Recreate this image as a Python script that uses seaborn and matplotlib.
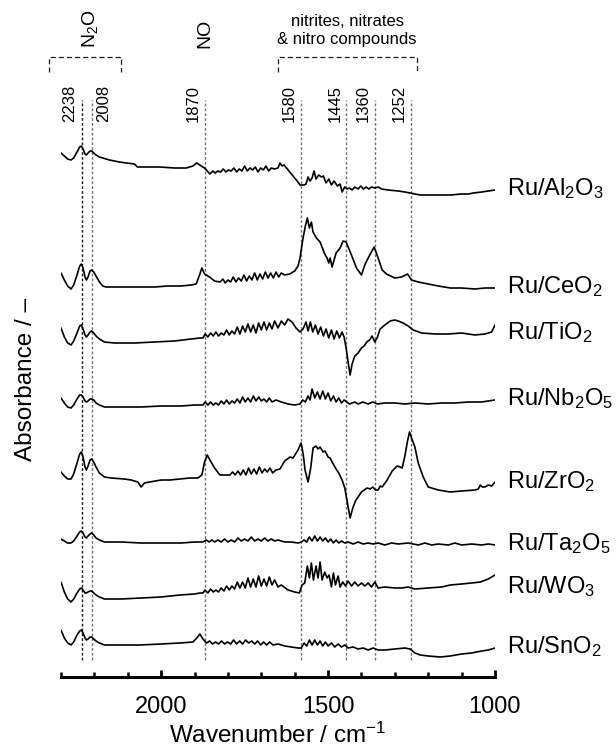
import matplotlib
matplotlib.use("Agg")
import numpy as np
import matplotlib.pyplot as plt
import matplotlib.transforms as mtransforms
from matplotlib.ticker import MultipleLocator
import pandas as pd
import seaborn as sns

# sample names (top to bottom) and vertical stacking offsets
samples = ["Ru/Al$_2$O$_3$", "Ru/CeO$_2$", "Ru/TiO$_2$", "Ru/Nb$_2$O$_5$",
           "Ru/ZrO$_2$", "Ru/Ta$_2$O$_5$", "Ru/WO$_3$", "Ru/SnO$_2$"]
offsets = [4.87, 3.89, 3.43, 2.77, 1.94, 1.32, 0.89, 0.29]

# band positions marked with dashed lines
band_pos = [2238, 2208, 1870, 1580, 1445, 1360, 1252]
band_labels = ["2238", "2008", "1870", "1580", "1445", "1360", "1252"]

# spectra: (wavenumber / cm-1, absorbance relative to baseline)
al2o3 = [(2300, 0.37), (2290, 0.34), (2280, 0.31), (2270, 0.30), (2262, 0.32), (2252, 0.38), (2244, 0.43),
         (2239, 0.44), (2234, 0.41), (2228, 0.36), (2224, 0.35), (2219, 0.37), (2213, 0.39), (2208, 0.39),
         (2202, 0.37), (2195, 0.35), (2185, 0.33), (2155, 0.30), (2125, 0.28), (2104, 0.27),
         (2080, 0.26), (2071, 0.23), (2040, 0.23), (2005, 0.23), (1960, 0.22), (1925, 0.22), (1905, 0.24),
         (1893, 0.27), (1880, 0.24), (1870, 0.22), (1854, 0.16), (1845, 0.19), (1838, 0.17), (1830, 0.19),
         (1822, 0.18), (1814, 0.21), (1806, 0.18), (1798, 0.20), (1790, 0.19), (1782, 0.22), (1774, 0.18),
         (1766, 0.21), (1758, 0.19), (1750, 0.24), (1742, 0.19), (1734, 0.22), (1726, 0.20), (1718, 0.23),
         (1710, 0.18), (1702, 0.22), (1694, 0.20), (1686, 0.24), (1678, 0.19), (1670, 0.22), (1660, 0.21),
         (1650, 0.22), (1644, 0.27), (1638, 0.24), (1632, 0.25), (1622, 0.21), (1610, 0.16), (1595, 0.10),
         (1584, 0.05), (1572, 0.05), (1566, 0.06), (1560, 0.13), (1554, 0.09), (1548, 0.12), (1542, 0.19),
         (1536, 0.11), (1528, 0.15), (1520, 0.13), (1514, 0.14), (1506, 0.07), (1498, 0.11), (1490, 0.05),
         (1482, 0.09), (1472, 0.04), (1464, 0.06), (1458, -0.02), (1450, 0.03), (1443, 0.01), (1436, 0.02),
         (1428, 0.00), (1420, 0.03), (1410, 0.01), (1402, 0.04), (1394, 0.01), (1386, 0.03), (1378, 0.01),
         (1370, 0.03), (1360, 0.02), (1350, 0.03), (1340, 0.01), (1320, 0.00), (1290, -0.01), (1270, -0.02),
         (1254, -0.03), (1240, -0.04), (1224, -0.05), (1180, -0.05), (1134, -0.05), (1100, -0.04),
         (1080, -0.04), (1065, -0.03), (1040, -0.02), (1020, -0.01), (1000, 0.00)]

ceo2 = [(2300, 0.15), (2290, 0.08), (2280, 0.02), (2270, -0.01), (2262, 0.03), (2252, 0.13), (2244, 0.22),
        (2239, 0.24), (2234, 0.20), (2228, 0.11), (2224, 0.08), (2219, 0.11), (2213, 0.17), (2208, 0.18),
        (2202, 0.16), (2195, 0.12), (2185, 0.06), (2175, 0.02), (2165, 0.01), (2140, 0.01), (2080, 0.01),
        (2020, 0.01), (1980, 0.02), (1940, 0.02), (1910, 0.03), (1895, 0.04), (1884, 0.14), (1878, 0.20),
        (1870, 0.14), (1855, 0.11), (1840, 0.07), (1824, 0.06), (1815, 0.09), (1808, 0.05), (1800, 0.08),
        (1792, 0.06), (1784, 0.11), (1776, 0.06), (1768, 0.10), (1760, 0.07), (1752, 0.13), (1744, 0.07),
        (1736, 0.12), (1728, 0.08), (1720, 0.15), (1712, 0.08), (1704, 0.14), (1696, 0.09), (1688, 0.16),
        (1680, 0.10), (1672, 0.15), (1664, 0.10), (1656, 0.16), (1648, 0.11), (1640, 0.15), (1630, 0.13),
        (1615, 0.14), (1600, 0.17), (1590, 0.22), (1584, 0.30), (1575, 0.50), (1568, 0.62), (1562, 0.70),
        (1556, 0.60), (1550, 0.66), (1545, 0.56), (1535, 0.50), (1524, 0.46), (1510, 0.34), (1503, 0.30),
        (1498, 0.25), (1494, 0.30), (1488, 0.21), (1482, 0.28), (1476, 0.35), (1464, 0.40), (1455, 0.47),
        (1446, 0.46), (1430, 0.33), (1415, 0.20), (1400, 0.13), (1390, 0.23), (1380, 0.30), (1362, 0.41),
        (1350, 0.30), (1338, 0.18), (1325, 0.14), (1300, 0.10), (1280, 0.11), (1262, 0.14), (1250, 0.08),
        (1230, 0.06), (1200, 0.04), (1170, 0.02), (1134, 0.00), (1100, 0.00), (1060, -0.01), (1030, 0.00),
        (1000, 0.00)]

tio2 = [(2300, 0.06), (2290, -0.03), (2280, -0.09), (2270, -0.11), (2262, -0.07), (2252, 0.01), (2244, 0.08),
        (2239, 0.09), (2234, 0.05), (2228, -0.01), (2224, -0.03), (2219, -0.01), (2213, 0.02), (2208, 0.03),
        (2202, 0.01), (2195, -0.02), (2185, -0.05), (2170, -0.08), (2140, -0.09), (2080, -0.09), (2020, -0.08),
        (1960, -0.07), (1910, -0.05), (1884, -0.04), (1875, -0.04), (1868, 0.00), (1860, -0.03), (1852, 0.01),
        (1844, -0.02), (1836, 0.02), (1828, -0.02), (1820, 0.01), (1812, -0.01), (1804, 0.04), (1796, -0.01),
        (1788, 0.03), (1780, 0.00), (1772, 0.07), (1764, 0.00), (1756, 0.08), (1748, 0.02), (1740, 0.10),
        (1732, 0.02), (1724, 0.09), (1716, 0.01), (1708, 0.11), (1700, 0.04), (1692, 0.12), (1684, 0.04),
        (1676, 0.11), (1668, 0.05), (1660, 0.13), (1650, 0.06), (1640, 0.13), (1630, 0.09), (1620, 0.15),
        (1608, 0.12), (1596, 0.06), (1584, 0.02), (1575, 0.05), (1566, 0.12), (1560, 0.03), (1553, 0.12),
        (1546, 0.02), (1538, 0.09), (1530, 0.00), (1522, 0.07), (1514, -0.02), (1506, 0.05), (1498, -0.04),
        (1490, 0.04), (1482, -0.05), (1474, 0.03), (1466, -0.04), (1458, 0.02), (1452, -0.03), (1446, -0.14),
        (1440, -0.28), (1434, -0.41), (1428, -0.30), (1420, -0.22), (1410, -0.19), (1400, -0.14),
        (1392, -0.12), (1384, -0.08), (1376, -0.06), (1368, -0.02), (1360, -0.08), (1352, -0.03),
        (1344, 0.05), (1330, 0.09), (1314, 0.13), (1300, 0.14), (1290, 0.13), (1275, 0.11), (1260, 0.08),
        (1245, 0.04), (1220, 0.01), (1180, 0.00), (1140, 0.00), (1100, 0.01), (1060, -0.01), (1030, 0.00),
        (1010, 0.02), (1000, 0.09)]

nb2o5 = [(2300, 0.02), (2290, -0.03), (2280, -0.07), (2270, -0.08), (2262, -0.05), (2252, 0.01), (2244, 0.05),
         (2239, 0.05), (2234, 0.03), (2228, -0.01), (2224, -0.02), (2219, -0.01), (2213, 0.01), (2208, 0.01),
         (2202, 0.00), (2195, -0.03), (2185, -0.05), (2170, -0.07), (2120, -0.07), (2060, -0.07), (2000, -0.06),
         (1940, -0.06), (1900, -0.05), (1875, -0.05), (1868, -0.02), (1860, -0.05), (1852, -0.02),
         (1844, -0.05), (1836, -0.03), (1828, -0.05), (1820, -0.01), (1812, -0.04), (1804, 0.00),
         (1796, -0.04), (1788, -0.01), (1780, -0.03), (1772, 0.01), (1764, -0.03), (1756, 0.03), (1748, -0.02),
         (1740, 0.02), (1732, -0.02), (1724, 0.04), (1716, -0.01), (1708, 0.03), (1700, -0.01), (1692, 0.01),
         (1684, -0.02), (1676, 0.02), (1668, -0.02), (1656, 0.00), (1640, -0.02), (1620, -0.04), (1600, -0.05),
         (1584, -0.04), (1576, 0.00), (1568, -0.02), (1560, 0.04), (1554, 0.00), (1548, 0.11), (1540, 0.02),
         (1532, 0.08), (1524, 0.01), (1516, 0.09), (1508, 0.01), (1500, 0.07), (1492, -0.01), (1484, 0.04),
         (1476, -0.02), (1468, 0.02), (1460, -0.03), (1452, 0.00), (1444, -0.02), (1436, -0.04), (1420, -0.02),
         (1410, -0.04), (1396, -0.02), (1380, -0.04), (1366, -0.02), (1352, -0.04), (1330, -0.03),
         (1300, -0.03), (1270, -0.04), (1240, -0.03), (1200, -0.04), (1160, -0.03), (1120, -0.03),
         (1080, -0.02), (1040, -0.02), (1000, 0.00)]

zro2 = [(2300, 0.11), (2290, 0.07), (2280, 0.04), (2270, 0.04), (2262, 0.09), (2252, 0.20), (2244, 0.29),
        (2239, 0.31), (2234, 0.26), (2228, 0.16), (2224, 0.13), (2219, 0.17), (2213, 0.23), (2208, 0.24),
        (2202, 0.21), (2195, 0.16), (2185, 0.10), (2170, 0.06), (2150, 0.05), (2110, 0.04),
        (2090, 0.03), (2070, 0.01), (2060, -0.04), (2050, 0.00), (2035, 0.01), (2000, 0.03), (1974, 0.03),
        (1944, 0.04), (1914, 0.05), (1890, 0.05), (1878, 0.08), (1870, 0.21), (1862, 0.28), (1854, 0.23),
        (1840, 0.15), (1824, 0.08), (1806, 0.08), (1794, 0.08), (1786, 0.11), (1778, 0.08), (1770, 0.12),
        (1762, 0.08), (1754, 0.13), (1746, 0.08), (1738, 0.15), (1730, 0.09), (1722, 0.14), (1714, 0.09),
        (1706, 0.16), (1698, 0.10), (1690, 0.14), (1682, 0.11), (1674, 0.15), (1666, 0.10), (1656, 0.13),
        (1644, 0.14), (1630, 0.22), (1614, 0.26), (1605, 0.25), (1590, 0.33), (1581, 0.40), (1575, 0.30),
        (1569, 0.13), (1560, 0.01), (1552, 0.15), (1545, 0.35), (1536, 0.37), (1530, 0.34), (1524, 0.36),
        (1515, 0.31), (1509, 0.32), (1500, 0.26), (1494, 0.25), (1488, 0.21), (1476, 0.14), (1468, 0.10),
        (1458, 0.03), (1450, -0.05), (1442, -0.20), (1434, -0.35), (1426, -0.25), (1418, -0.18),
        (1410, -0.14), (1400, -0.09), (1392, -0.07), (1383, -0.05), (1374, -0.06), (1366, -0.04),
        (1358, -0.07), (1350, -0.07), (1344, -0.03), (1338, -0.04), (1323, 0.03), (1308, 0.12), (1293, 0.17),
        (1284, 0.16), (1278, 0.15), (1270, 0.27), (1262, 0.42), (1256, 0.51), (1250, 0.45), (1240, 0.36),
        (1230, 0.20), (1215, 0.06), (1200, -0.04), (1170, -0.07), (1134, -0.09), (1100, -0.08),
        (1060, -0.07), (1050, -0.06), (1044, -0.02), (1038, -0.04), (1030, -0.04), (1020, -0.02),
        (1010, -0.03), (1000, 0.01)]

ta2o5 = [(2300, 0.06), (2290, 0.04), (2280, 0.02), (2270, 0.02), (2262, 0.04), (2252, 0.09), (2244, 0.13),
         (2239, 0.14), (2234, 0.12), (2228, 0.08), (2224, 0.07), (2219, 0.09), (2213, 0.11), (2208, 0.12),
         (2202, 0.10), (2195, 0.07), (2185, 0.05), (2170, 0.03), (2120, 0.03), (2060, 0.02), (2000, 0.02),
         (1940, 0.02), (1900, 0.03), (1875, 0.03), (1865, 0.05), (1856, 0.03), (1848, 0.05), (1840, 0.03),
         (1830, 0.05), (1820, 0.03), (1810, 0.06), (1800, 0.03), (1790, 0.05), (1780, 0.03), (1770, 0.07),
         (1760, 0.04), (1750, 0.06), (1740, 0.04), (1730, 0.08), (1720, 0.04), (1710, 0.06), (1700, 0.04),
         (1690, 0.07), (1680, 0.04), (1670, 0.06), (1660, 0.04), (1650, 0.05), (1630, 0.03), (1610, 0.03),
         (1590, 0.02), (1580, 0.03), (1572, 0.05), (1564, 0.03), (1556, 0.08), (1548, 0.04), (1540, 0.09),
         (1532, 0.04), (1524, 0.08), (1516, 0.04), (1508, 0.07), (1500, 0.03), (1492, 0.06), (1484, 0.02),
         (1476, 0.05), (1468, 0.02), (1460, 0.04), (1450, 0.02), (1440, 0.03), (1425, 0.01), (1410, 0.03),
         (1395, 0.01), (1380, 0.02), (1365, 0.01), (1350, 0.02), (1330, 0.00), (1310, 0.02), (1290, 0.01),
         (1260, 0.02), (1230, 0.00), (1210, 0.02), (1190, 0.00), (1170, 0.01), (1140, 0.00), (1120, 0.02),
         (1100, 0.00), (1070, 0.01), (1040, 0.00), (1020, 0.01), (1000, 0.00)]

wo3 = [(2300, 0.06), (2290, -0.04), (2280, -0.11), (2270, -0.14), (2262, -0.11), (2252, -0.05), (2244, -0.01),
       (2239, 0.00), (2234, -0.02), (2228, -0.05), (2224, -0.05), (2219, -0.04), (2213, -0.03), (2208, -0.03),
       (2202, -0.05), (2195, -0.07), (2185, -0.09), (2170, -0.11), (2120, -0.11),
       (2060, -0.10), (2000, -0.09), (1944, -0.07), (1900, -0.06), (1884, -0.05), (1875, -0.05),
       (1868, -0.02), (1860, -0.05), (1852, -0.01), (1844, -0.04), (1836, -0.02), (1828, -0.04), (1820, 0.00),
       (1812, -0.03), (1804, 0.02), (1796, -0.02), (1788, 0.02), (1780, -0.01), (1772, 0.06), (1764, 0.00),
       (1756, 0.06), (1748, 0.00), (1740, 0.10), (1732, 0.01), (1724, 0.09), (1716, 0.01), (1708, 0.12),
       (1700, 0.02), (1692, 0.09), (1684, 0.02), (1676, 0.11), (1668, 0.03), (1660, 0.08), (1650, 0.01),
       (1640, 0.03), (1620, -0.02), (1600, -0.04), (1586, -0.05), (1578, 0.03), (1570, 0.05), (1562, 0.22),
       (1556, 0.10), (1550, 0.25), (1544, 0.08), (1536, 0.22), (1530, 0.10), (1524, 0.26), (1518, 0.08),
       (1510, 0.16), (1503, 0.10), (1497, 0.13), (1490, 0.01), (1484, 0.15), (1478, 0.03), (1470, 0.12),
       (1464, 0.01), (1456, 0.06), (1448, 0.02), (1440, 0.07), (1430, 0.02), (1420, 0.06), (1410, 0.02),
       (1400, 0.05), (1390, 0.02), (1380, 0.05), (1370, 0.01), (1360, 0.06), (1350, 0.00), (1330, 0.01),
       (1300, 0.00), (1280, 0.00), (1260, 0.01), (1240, -0.01), (1200, 0.00), (1160, 0.01), (1134, 0.03),
       (1100, 0.04), (1070, 0.05), (1044, 0.06), (1020, 0.09), (1000, 0.13)]

sno2 = [(2300, 0.18), (2290, 0.10), (2280, 0.05), (2270, 0.03), (2262, 0.06), (2252, 0.13), (2244, 0.17),
        (2239, 0.18), (2234, 0.15), (2228, 0.10), (2224, 0.08), (2219, 0.09), (2213, 0.11), (2208, 0.11),
        (2202, 0.09), (2195, 0.07), (2185, 0.05), (2170, 0.03), (2120, 0.03), (2065, 0.03),
        (2000, 0.04), (1944, 0.05), (1905, 0.06), (1893, 0.10), (1884, 0.14), (1875, 0.09), (1864, 0.05),
        (1855, 0.07), (1846, 0.04), (1837, 0.06), (1828, 0.04), (1819, 0.07), (1810, 0.04), (1801, 0.06),
        (1792, 0.04), (1783, 0.08), (1774, 0.04), (1765, 0.07), (1756, 0.04), (1747, 0.08), (1738, 0.05),
        (1729, 0.07), (1720, 0.04), (1711, 0.07), (1702, 0.03), (1693, 0.06), (1684, 0.03), (1675, 0.06),
        (1665, 0.03), (1650, 0.04), (1630, 0.02), (1610, 0.01), (1590, 0.00), (1580, 0.00), (1572, 0.05),
        (1564, 0.02), (1556, 0.08), (1548, 0.03), (1540, 0.08), (1532, 0.03), (1524, 0.07), (1516, 0.02),
        (1508, 0.06), (1500, 0.02), (1490, 0.05), (1480, 0.01), (1470, 0.04), (1460, 0.01), (1450, 0.03),
        (1440, 0.00), (1425, 0.01), (1410, -0.01), (1395, 0.00), (1380, -0.02), (1365, 0.00), (1350, -0.02),
        (1330, -0.02), (1300, -0.01), (1270, 0.00), (1254, -0.01), (1240, -0.05), (1224, -0.07),
        (1200, -0.08), (1164, -0.09), (1134, -0.08), (1100, -0.06), (1070, -0.05), (1040, -0.03),
        (1020, -0.02), (1000, 0.00)]

spectra = [al2o3, ceo2, tio2, nb2o5, zro2, ta2o5, wo3, sno2]

# long table for seaborn, each spectrum shifted by its offset
frames = []
for name, pts, off in zip(samples, spectra, offsets):
    wn, a = zip(*pts)
    frames.append(pd.DataFrame({"wavenumber": wn, "absorbance": np.array(a) + off, "sample": name}))
df = pd.concat(frames, ignore_index=True)

sns.set_theme(style="white", rc={"axes.edgecolor": "black", "text.color": "black",
                                 "axes.labelcolor": "black", "xtick.color": "black"})
plt.rcParams["font.family"] = ["Liberation Sans", "DejaVu Sans"]
plt.rcParams["mathtext.fontset"] = "custom"
plt.rcParams["mathtext.rm"] = "Liberation Sans"
plt.rcParams["mathtext.it"] = "Liberation Sans:italic"
plt.rcParams["mathtext.default"] = "regular"

fig = plt.figure(figsize=(6.16, 7.5), dpi=100)
ax = fig.add_axes([61 / 616, 1 - 677 / 750, 434 / 616, 577 / 750])

sns.lineplot(data=df, x="wavenumber", y="absorbance", units="sample", estimator=None,
             sort=False, color="black", lw=1.2, ax=ax, legend=False)

ax.set_xlim(2300, 1000)
ax.set_ylim(0, 5.77)

# spines / ticks
for s in ["left", "right", "top"]:
    ax.spines[s].set_visible(False)
ax.spines["bottom"].set_linewidth(2.2)
ax.set_yticks([])
ax.xaxis.set_major_locator(MultipleLocator(500))
ax.xaxis.set_minor_locator(MultipleLocator(100))
ax.tick_params(axis="x", which="major", direction="in", length=5, width=2, labelsize=17, pad=14,
               bottom=True)
ax.tick_params(axis="x", which="minor", direction="in", length=3.5, width=1.8, bottom=True)
ax.set_xlabel("Wavenumber / cm$^{-1}$", fontsize=17.5, labelpad=3)
ax.set_ylabel("Absorbance / \u2013", fontsize=17.5)
ax.yaxis.set_label_coords(-0.056, 0.515)

# dashed band markers with rotated numbers
trans = mtransforms.blended_transform_factory(ax.transData, ax.transAxes)
for i, (pos, lab) in enumerate(zip(band_pos, band_labels)):
    ax.axvline(pos, ymin=0.03, ymax=1.0, color="0.1" if i == 0 else "0.45",
               ls=(0, (2, 1.5)), lw=1.0, zorder=0)
    if lab == "2008":
        t = mtransforms.offset_copy(trans, fig=fig, x=3, units="points")
        ha = "left"
    else:
        t = mtransforms.offset_copy(trans, fig=fig, x=-3, units="points")
        ha = "right"
    ax.text(pos, 0.962, lab, rotation=90, ha=ha, va="bottom", fontsize=12, transform=t)

# group brackets
bracket = dict(transform=trans, clip_on=False, color="0.1", ls=(0, (4, 2.5)), lw=0.9)
ax.plot([2337, 2337, 2119, 2119], [1.0485, 1.0745, 1.0745, 1.0485], **bracket)
ax.plot([1650, 1650, 1233, 1233], [1.0485, 1.0745, 1.0745, 1.0485], **bracket)
ax.text(2212, 1.090, "N$_2$O", rotation=90, ha="center", va="bottom", fontsize=14, transform=trans)
ax.text(1869, 1.090, "NO", rotation=90, ha="center", va="bottom", fontsize=14, transform=trans)
ax.text(1443, 1.092, "nitrites, nitrates\n& nitro compounds", ha="center", va="bottom",
        fontsize=12, linespacing=1.25, transform=trans)

# sample labels at the right
for name, off in zip(samples, offsets):
    ax.text(1.028, off + 0.01, name, transform=mtransforms.blended_transform_factory(ax.transAxes, ax.transData),
            ha="left", va="center", fontsize=17, clip_on=False)

fig.savefig("out.png", dpi=100)
